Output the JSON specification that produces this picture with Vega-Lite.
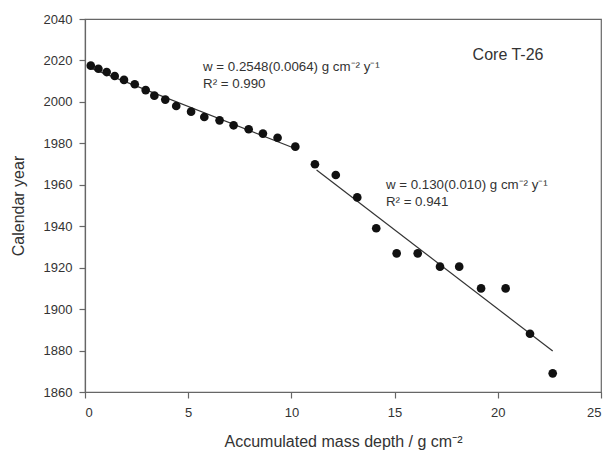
{
  "$schema": "https://vega.github.io/schema/vega-lite/v6.json",
  "width": 516,
  "height": 373,
  "autosize": "none",
  "padding": {"left": 85, "top": 19, "right": 10, "bottom": 62},
  "background": "white",
  "config": {
    "font": "Liberation Sans",
    "view": {"stroke": "#666", "strokeWidth": 1.2},
    "axis": {
      "grid": false,
      "domainColor": "#666",
      "domainWidth": 1.2,
      "tickColor": "#666",
      "tickWidth": 1.2,
      "tickSize": 6,
      "labelColor": "#333",
      "labelFont": "Liberation Sans",
      "labelFontSize": 13,
      "titleColor": "#333",
      "titleFont": "Liberation Sans",
      "titleFontWeight": "normal",
      "titleFontSize": 16
    }
  },
  "datasets": {
    "pts": [
      {"depth": 0.28, "year": 2017.5},
      {"depth": 0.65, "year": 2016.0},
      {"depth": 1.05, "year": 2014.4},
      {"depth": 1.44, "year": 2012.5},
      {"depth": 1.89, "year": 2010.6},
      {"depth": 2.41, "year": 2008.5},
      {"depth": 2.94, "year": 2005.7},
      {"depth": 3.36, "year": 2003.0},
      {"depth": 3.89, "year": 2001.1},
      {"depth": 4.42, "year": 1998.0},
      {"depth": 5.14, "year": 1995.3},
      {"depth": 5.78, "year": 1992.7},
      {"depth": 6.52, "year": 1991.1},
      {"depth": 7.20, "year": 1988.7},
      {"depth": 7.93, "year": 1986.8},
      {"depth": 8.62, "year": 1984.7},
      {"depth": 9.33, "year": 1982.7},
      {"depth": 10.19, "year": 1978.4},
      {"depth": 11.14, "year": 1969.9},
      {"depth": 12.15, "year": 1964.7},
      {"depth": 13.19, "year": 1953.9},
      {"depth": 14.11, "year": 1939.0},
      {"depth": 15.10, "year": 1926.9},
      {"depth": 16.12, "year": 1926.9},
      {"depth": 17.20, "year": 1920.5},
      {"depth": 18.13, "year": 1920.5},
      {"depth": 19.19, "year": 1910.0},
      {"depth": 20.38, "year": 1910.0},
      {"depth": 21.56, "year": 1888.1},
      {"depth": 22.66, "year": 1869.0}
    ],
    "fits": [
      {"fit": "upper", "depth": 0.28, "year": 2016.3},
      {"fit": "upper", "depth": 10.3, "year": 1977.0},
      {"fit": "lower", "depth": 11.22, "year": 1967.1},
      {"fit": "lower", "depth": 22.66, "year": 1879.8}
    ],
    "notes": [
      {"depth": 5.72, "year": 2016.8, "label": "w = 0.2548(0.0064) g cm⁻² y⁻¹", "size": 13.3},
      {"depth": 5.72, "year": 2008.6, "label": "R² = 0.990", "size": 13.3},
      {"depth": 14.58, "year": 1959.9, "label": "w = 0.130(0.010) g cm⁻² y⁻¹", "size": 13.3},
      {"depth": 14.58, "year": 1951.8, "label": "R² = 0.941", "size": 13.3},
      {"depth": 18.78, "year": 2022.6, "label": "Core T-26", "size": 16}
    ]
  },
  "layer": [
    {
      "data": {"name": "fits"},
      "mark": {"type": "line", "color": "#333", "strokeWidth": 1.2},
      "encoding": {
        "x": {"field": "depth", "type": "quantitative"},
        "y": {"field": "year", "type": "quantitative"},
        "detail": {"field": "fit"}
      }
    },
    {
      "data": {"name": "pts"},
      "mark": {"type": "circle", "color": "#111", "opacity": 1, "size": 75},
      "encoding": {
        "x": {
          "field": "depth",
          "type": "quantitative",
          "scale": {"domain": [0, 25], "nice": false, "zero": false},
          "axis": {
            "values": [0, 5, 10, 15, 20, 25],
            "title": "Accumulated mass depth / g cm⁻²",
            "labelPadding": 8,
            "titlePadding": 14
          }
        },
        "y": {
          "field": "year",
          "type": "quantitative",
          "scale": {"domain": [1860, 2040], "nice": false, "zero": false},
          "axis": {
            "values": [1860, 1880, 1900, 1920, 1940, 1960, 1980, 2000, 2020, 2040],
            "format": "d",
            "title": "Calendar year",
            "labelPadding": 7,
            "titlePadding": 17
          }
        }
      }
    },
    {
      "data": {"name": "notes"},
      "mark": {"type": "text", "align": "left", "baseline": "middle", "color": "#333", "font": "Liberation Sans"},
      "encoding": {
        "x": {"field": "depth", "type": "quantitative"},
        "y": {"field": "year", "type": "quantitative"},
        "text": {"field": "label"},
        "size": {"field": "size", "type": "quantitative", "scale": null}
      }
    }
  ]
}
